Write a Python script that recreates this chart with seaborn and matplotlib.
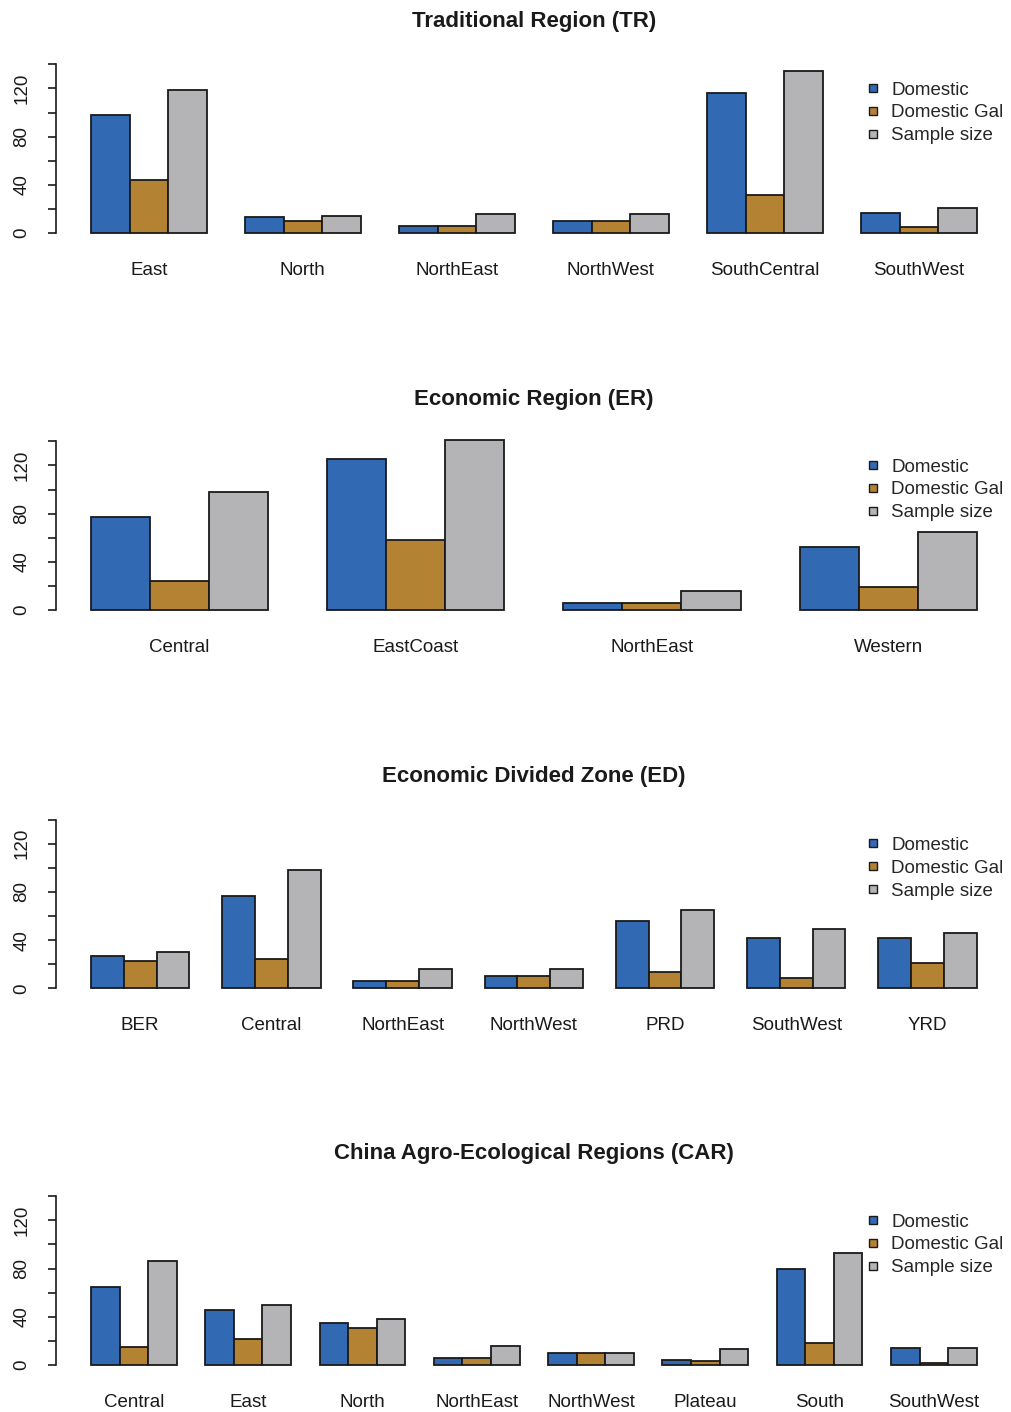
import numpy as np
import pandas as pd
import matplotlib
matplotlib.use("Agg")
import matplotlib.pyplot as plt
import seaborn as sns
from matplotlib.lines import Line2D

sns.set_theme(style="white")
plt.rcParams["font.family"] = ["Liberation Sans", "DejaVu Sans"]

series = ["Domestic", "Domestic Gal", "Sample size"]
colors = ["#3169b3", "#b48233", "#b4b3b6"]

titles = ["Traditional Region (TR)", "Economic Region (ER)",
          "Economic Divided Zone (ED)", "China Agro-Ecological Regions (CAR)"]

tr_regions = ["East", "North", "NorthEast", "NorthWest", "SouthCentral", "SouthWest"]
tr_domestic = [98, 13, 6, 10, 116, 17]
tr_gal = [44, 10, 6, 10, 32, 5]
tr_sample = [119, 14, 16, 16, 134, 21]

er_regions = ["Central", "EastCoast", "NorthEast", "Western"]
er_domestic = [77, 125, 6, 52]
er_gal = [24, 58, 6, 19]
er_sample = [98, 141, 16, 65]

ed_regions = ["BER", "Central", "NorthEast", "NorthWest", "PRD", "SouthWest", "YRD"]
ed_domestic = [27, 77, 6, 10, 56, 42, 42]
ed_gal = [23, 24, 6, 10, 14, 9, 21]
ed_sample = [30, 98, 16, 16, 65, 49, 46]

car_regions = ["Central", "East", "North", "NorthEast", "NorthWest", "Plateau", "South", "SouthWest"]
car_domestic = [65, 46, 35, 6, 10, 4, 80, 14]
car_gal = [15, 22, 31, 6, 10, 3, 18, 2]
car_sample = [86, 50, 38, 16, 10, 13, 93, 14]

y_ticks = [0, 20, 40, 60, 80, 100, 120, 140]
y_labels = ["0", "", "40", "", "80", "", "120", ""]

panels = [
    (tr_regions, tr_domestic, tr_gal, tr_sample),
    (er_regions, er_domestic, er_gal, er_sample),
    (ed_regions, ed_domestic, ed_gal, ed_sample),
    (car_regions, car_domestic, car_gal, car_sample),
]

W, H = 1011, 1412
fig = plt.figure(figsize=(W / 100, H / 100), dpi=100)

tops = [57.5, 434.5, 812.8, 1189.4]
ph = 182.4
left_px, right_px = 55.6, 1012.1
title_y = [22, 399, 776, 1153]

for i, (regions, dom, gal, samp) in enumerate(panels):
    df = pd.DataFrame({
        "region": regions * 3,
        "series": [series[0]] * len(regions) + [series[1]] * len(regions) + [series[2]] * len(regions),
        "value": list(dom) + list(gal) + list(samp),
    })
    ax = fig.add_axes([left_px / W, 1 - (tops[i] + ph) / H, (right_px - left_px) / W, ph / H])
    sns.barplot(data=df, x="region", y="value", hue="series", order=regions,
                hue_order=series, palette=colors, width=0.75, saturation=1,
                edgecolor="#1a1a1a", linewidth=1.3, ax=ax, legend=False, errorbar=None)
    n = len(regions)
    ext = 0.01 * (4 * n - 1)
    ax.set_xlim(-0.375 - ext, n - 1 + 0.375 + ext)
    ax.set_ylim(-5.6, 145.6)
    for s in ["top", "right", "bottom"]:
        ax.spines[s].set_visible(False)
    ax.spines["left"].set_bounds(0, 140)
    ax.spines["left"].set_color("#1a1a1a")
    ax.spines["left"].set_linewidth(1.2)
    ax.set_yticks(y_ticks)
    ax.set_yticklabels(y_labels, rotation=90, va="center", fontsize=13.5, color="#1a1a1a")
    ax.tick_params(axis="y", length=6, width=1.2, pad=12, color="#1a1a1a", left=True)
    ax.tick_params(axis="x", length=0, pad=16, labelsize=13.5, labelcolor="#1a1a1a")
    ax.set_xlabel("")
    ax.set_ylabel("")
    ax.grid(False)
    fig.text((left_px + right_px) / 2 / W, 1 - title_y[i] / H, titles[i],
             ha="center", va="center", fontsize=16, fontweight="bold", color="#1a1a1a")
    handles = [Line2D([], [], marker="s", linestyle="none", markersize=5.6,
                      markerfacecolor=c, markeredgecolor="#1a1a1a", markeredgewidth=1.0)
               for c in colors]
    ax.legend(handles, series, loc="upper left", bbox_to_anchor=(0.8468, 0.868),
              frameon=False, fontsize=13.5, handlelength=0.8, handletextpad=0.56,
              labelspacing=0.3, borderpad=0, borderaxespad=0)

fig.savefig("out.png", dpi=100, facecolor="white")
